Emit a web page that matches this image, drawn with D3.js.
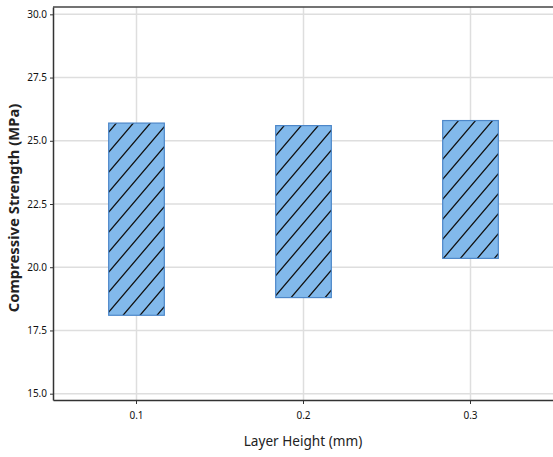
<!DOCTYPE html>
<html>
<head>
<meta charset="utf-8">
<script src="https://cdn.jsdelivr.net/npm/d3@7"></script>
<style>
  html, body { margin: 0; padding: 0; background: #fff; }
  svg { display: block; }
</style>
</head>
<body>
<svg id="chart" width="553" height="457"></svg>
<script>
// Layer height categories and the compressive strength range of each (MPa)
const layerHeights = ["0.1", "0.2", "0.3"];
const strengthMin = [18.1, 18.8, 20.35];
const strengthMax = [25.7, 25.6, 25.8];
const yTicks = [15.0, 17.5, 20.0, 22.5, 25.0, 27.5, 30.0];

const width = 553, height = 457;
const margin = { top: 7, right: -1, bottom: 57, left: 53 };

const svg = d3.select("#chart");

const x = d3.scaleBand()
  .domain(layerHeights)
  .range([margin.left, width - margin.right])
  .paddingInner(0).paddingOuter(0);

const y = d3.scaleLinear()
  .domain([14.75, 30.29])
  .range([height - margin.bottom, margin.top]);

// Diagonal hatch for the bars
const defs = svg.append("defs");
const pat = defs.append("pattern")
  .attr("id", "hatch")
  .attr("patternUnits", "userSpaceOnUse")
  .attr("width", 17).attr("height", 20);
pat.append("rect").attr("width", 17).attr("height", 20).attr("fill", "#82b9eb");
pat.append("path")
  .attr("d", "M-4.25,5 L4.25,-5 M0,20 L17,0 M12.75,25 L21.25,15")
  .attr("stroke", "#111").attr("stroke-width", 1.3);

// Gridlines
const grid = svg.append("g");
grid.selectAll("line.h").data(yTicks).join("line")
  .attr("x1", margin.left).attr("x2", width)
  .attr("y1", d => y(d)).attr("y2", d => y(d))
  .attr("stroke", "#dedede").attr("stroke-width", 1.5);
grid.selectAll("line.v").data(layerHeights).join("line")
  .attr("x1", d => x(d) + x.bandwidth() / 2).attr("x2", d => x(d) + x.bandwidth() / 2)
  .attr("y1", margin.top).attr("y2", height - margin.bottom)
  .attr("stroke", "#dedede").attr("stroke-width", 1.5);

// Floating bars (min to max)
const barW = x.bandwidth() / 3;
svg.append("g").selectAll("rect").data(layerHeights).join("rect")
  .attr("x", d => x(d) + x.bandwidth() / 2 - barW / 2)
  .attr("width", barW)
  .attr("y", (d, i) => y(strengthMax[i]))
  .attr("height", (d, i) => y(strengthMin[i]) - y(strengthMax[i]))
  .attr("fill", "url(#hatch)")
  .attr("stroke", "#4d87c9").attr("stroke-width", 1.2);

// Frame line along the top
svg.append("line")
  .attr("x1", margin.left).attr("x2", width)
  .attr("y1", margin.top).attr("y2", margin.top)
  .attr("stroke", "#444").attr("stroke-width", 1.5);

// Axes
const yAxis = svg.append("g")
  .attr("transform", `translate(${margin.left},0)`)
  .call(d3.axisLeft(y).tickValues(yTicks).tickFormat(d3.format(".1f"))
    .tickSize(3).tickSizeOuter(0).tickPadding(3));
const xAxis = svg.append("g")
  .attr("transform", `translate(0,${height - margin.bottom})`)
  .call(d3.axisBottom(x).tickSize(4).tickSizeOuter(0).tickPadding(8));

[yAxis, xAxis].forEach(g => {
  g.select(".domain").attr("stroke", "#333").attr("stroke-width", 1.5);
  g.selectAll(".tick line").attr("stroke", "#333");
  g.selectAll(".tick text")
    .attr("fill", "#111")
    .style("font-family", "'Noto Sans', sans-serif")
    .style("font-size", "10px");
});

// Axis titles
svg.append("text")
  .attr("transform", "translate(19,208) rotate(-90)")
  .attr("text-anchor", "middle")
  .style("font-family", "'Noto Sans', sans-serif")
  .style("font-size", "14.8px")
  .style("font-weight", "bold")
  .attr("fill", "#222")
  .text("Compressive Strength (MPa)");

svg.append("text")
  .attr("x", 303).attr("y", 446)
  .attr("text-anchor", "middle")
  .style("font-family", "'Noto Sans', sans-serif")
  .style("font-size", "13.6px")
  .attr("fill", "#222")
  .text("Layer Height (mm)");
</script>
</body>
</html>
